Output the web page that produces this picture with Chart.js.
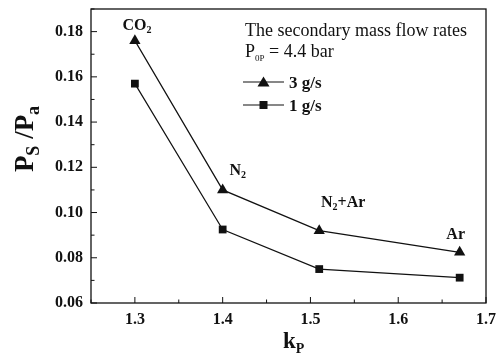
<!DOCTYPE html>
<html>
<head>
<meta charset="utf-8">
<script src="https://cdn.jsdelivr.net/npm/chart.js@4.4.1/dist/chart.umd.min.js"></script>
<style>
  html, body { margin: 0; padding: 0; background: #fff; }
  #wrap { width: 497px; height: 357px; }
</style>
</head>
<body>
<div id="wrap"><canvas id="c" width="497" height="357"></canvas></div>
<script>
// Specific heat ratio of the primary gas (k_P) and the pressure ratio P_S/P_a
const kValues = [1.3, 1.4, 1.51, 1.67];
const gasNames = [
  [{ t: 'CO' }, { t: '2', sub: true }],
  [{ t: 'N' }, { t: '2', sub: true }],
  [{ t: 'N' }, { t: '2', sub: true }, { t: '+Ar' }],
  [{ t: 'Ar' }]
];
const ratio3gs = [0.176, 0.110, 0.092, 0.0824];
const ratio1gs = [0.157, 0.0925, 0.075, 0.0712];
const xTickValues = [1.3, 1.4, 1.5, 1.6, 1.7];
const yTickValues = [0.06, 0.08, 0.10, 0.12, 0.14, 0.16, 0.18];
const seriesNames = ['3 g/s', '1 g/s'];

const INK = '#111';
const SERIF = '"Liberation Serif", "Times New Roman", serif';

function toPoints(xs, ys) { return xs.map((x, i) => ({ x: x, y: ys[i] })); }

// draws a run of text parts, subscripts smaller and lowered
function drawRich(ctx, parts, x, y, size, weight, align, subScale) {
  const subSize = Math.round(size * (subScale || 0.6));
  const widths = parts.map(p => {
    ctx.font = weight + ' ' + (p.sub ? subSize : size) + 'px ' + SERIF;
    return ctx.measureText(p.t).width;
  });
  const total = widths.reduce((a, b) => a + b, 0);
  let cx = align === 'center' ? x - total / 2 : x;
  ctx.textAlign = 'left';
  ctx.textBaseline = 'alphabetic';
  parts.forEach((p, i) => {
    ctx.font = weight + ' ' + (p.sub ? subSize : size) + 'px ' + SERIF;
    ctx.fillText(p.t, cx, y + (p.sub ? size * 0.22 : 0));
    cx += widths[i];
  });
}

const decorations = {
  id: 'decorations',
  afterDatasetsDraw(chart) {
    const ctx = chart.ctx;
    const xs = chart.scales.x, ys = chart.scales.y;
    const a = chart.chartArea;
    ctx.save();
    ctx.strokeStyle = INK;
    ctx.fillStyle = INK;

    // frame
    ctx.lineWidth = 1.3;
    ctx.strokeRect(a.left, a.top, a.right - a.left, a.bottom - a.top);

    // inward tick marks, major and minor
    ctx.lineWidth = 1;
    ctx.beginPath();
    for (let v = 1.25; v <= 1.7001; v += 0.05) {
      const px = xs.getPixelForValue(v);
      const major = Math.abs(Math.round(v * 10) - v * 10) < 1e-6;
      ctx.moveTo(px, a.bottom);
      ctx.lineTo(px, a.bottom - (major ? 6 : 3.5));
    }
    for (let v = 0.06; v <= 0.1901; v += 0.01) {
      const py = ys.getPixelForValue(v);
      const major = Math.round(v * 100) % 2 === 0;
      ctx.moveTo(a.left, py);
      ctx.lineTo(a.left + (major ? 6 : 3.5), py);
    }
    ctx.stroke();

    // gas labels beside the 3 g/s points
    const offsets = [[2, -11], [15, -15], [24, -24], [-4, -13]];
    kValues.forEach((k, i) => {
      const px = xs.getPixelForValue(k) + offsets[i][0];
      const py = ys.getPixelForValue(ratio3gs[i]) + offsets[i][1];
      drawRich(ctx, gasNames[i], px, py, 16, 'bold', 'center');
    });

    // legend block
    drawRich(ctx, [{ t: 'The secondary mass flow rates' }], 245, 36, 18, 'normal', 'left');
    drawRich(ctx, [{ t: 'P' }, { t: '0P', sub: true }, { t: ' = 4.4 bar' }], 245, 57, 18, 'normal', 'left', 0.5);
    const rows = [82, 105];
    const styles = ['triangle', 'rect'];
    rows.forEach((ry, i) => {
      ctx.lineWidth = 1.2;
      ctx.beginPath();
      ctx.moveTo(243, ry);
      ctx.lineTo(284, ry);
      ctx.stroke();
      ctx.beginPath();
      if (styles[i] === 'triangle') {
        ctx.moveTo(263.5, ry - 5.5);
        ctx.lineTo(269.5, ry + 4.5);
        ctx.lineTo(257.5, ry + 4.5);
        ctx.closePath();
      } else {
        ctx.rect(259.5, ry - 4, 8, 8);
      }
      ctx.fill();
      drawRich(ctx, [{ t: seriesNames[i] }], 289, ry + 6, 17, 'bold', 'left');
    });

    // axis titles
    drawRich(ctx, [{ t: 'k' }, { t: 'P', sub: true }], 283, 348, 23, 'bold', 'left');
    ctx.translate(33, 139);
    ctx.rotate(-Math.PI / 2);
    drawRich(ctx, [{ t: 'P' }, { t: 'S', sub: true }, { t: ' /P' }, { t: 'a', sub: true }], 0, 0, 27, 'bold', 'center', 0.66);
    ctx.restore();
  }
};

new Chart(document.getElementById('c'), {
  type: 'scatter',
  data: {
    datasets: [
      {
        label: seriesNames[0],
        data: toPoints(kValues, ratio3gs),
        showLine: true,
        borderColor: INK,
        backgroundColor: INK,
        borderWidth: 1.2,
        pointStyle: 'triangle',
        pointRadius: 6.5,
        pointBorderWidth: 0
      },
      {
        label: seriesNames[1],
        data: toPoints(kValues, ratio1gs),
        showLine: true,
        borderColor: INK,
        backgroundColor: INK,
        borderWidth: 1.2,
        pointStyle: 'rect',
        pointRadius: 5.5,
        pointBorderWidth: 0
      }
    ]
  },
  options: {
    responsive: false,
    animation: false,
    devicePixelRatio: 1,
    layout: { padding: { top: 9, right: 11, left: 0, bottom: 0 } },
    plugins: { legend: { display: false }, tooltip: { enabled: false } },
    scales: {
      x: {
        type: 'linear',
        min: 1.25,
        max: 1.7,
        grid: { display: false, drawTicks: false },
        border: { display: false },
        afterBuildTicks: s => { s.ticks = xTickValues.map(v => ({ value: v })); },
        afterFit: s => { s.height = 54; s.paddingLeft = 0; s.paddingRight = 0; },
        ticks: {
          padding: 7,
          color: INK,
          font: { family: SERIF, size: 16, weight: 'bold' },
          callback: v => v.toFixed(1)
        }
      },
      y: {
        type: 'linear',
        min: 0.06,
        max: 0.19,
        grid: { display: false, drawTicks: false },
        border: { display: false },
        afterBuildTicks: s => { s.ticks = yTickValues.map(v => ({ value: v })); },
        afterFit: s => { s.width = 91; s.paddingTop = 0; s.paddingBottom = 0; },
        ticks: {
          padding: 8,
          color: INK,
          font: { family: SERIF, size: 16, weight: 'bold' },
          callback: v => v.toFixed(2)
        }
      }
    }
  },
  plugins: [decorations]
});
</script>
</body>
</html>
